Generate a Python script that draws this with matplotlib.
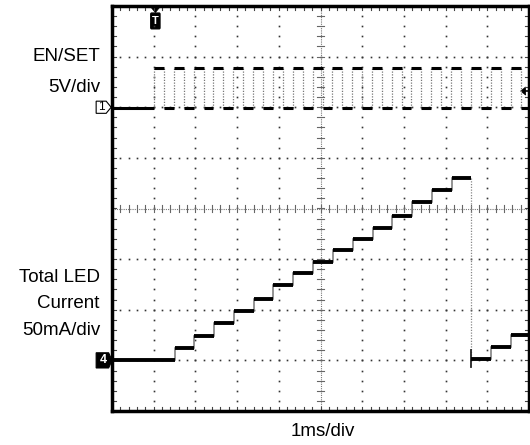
import numpy as np
import matplotlib.pyplot as plt
from matplotlib.patches import Polygon, FancyBboxPatch

plt.rcParams['font.family'] = ['Liberation Sans', 'DejaVu Sans']

# EN/SET (ch1) pulse edges in ms (1ms/div)
en_rise = [1.01, 1.48, 1.96, 2.43, 2.91, 3.38, 3.86, 4.33, 4.81, 5.28,
           5.76, 6.23, 6.71, 7.18, 7.66, 8.13, 8.61, 9.08, 9.56]
en_fall = [1.25, 1.72, 2.20, 2.67, 3.15, 3.62, 4.10, 4.57, 5.05, 5.52,
           6.00, 6.47, 6.95, 7.42, 7.90, 8.37, 8.85, 9.32, 9.80]
en_low_v = -0.1
en_high_v = 3.9

# Total LED current (ch4): step times in ms and levels in mA
led_step_t = [1.50, 1.97, 2.45, 2.92, 3.40, 3.87, 4.35, 4.82, 5.30,
              5.77, 6.25, 6.72, 7.20, 7.67, 8.15, 8.62, 9.10, 9.58]
led_ma = [0, 12, 24, 37, 49, 61, 74, 86, 97, 109, 120, 131, 143, 156,
          168, 180, 1, 13, 25]
glitch_ma = [-7, 10]   # spike when the count wraps around

trig_level_div = 2.32

# screen scaling
ch1_zero, v_per_div = 2.0, 5.0
ch4_zero, ma_per_div = -3.0, 50.0

fig = plt.figure(figsize=(5.30, 4.45), dpi=100)
ax = fig.add_axes([112/530, 34/445, 417/530, 405/445])
ax.set_xlim(0, 10)
ax.set_ylim(-4, 4)
ax.set_xticks([])
ax.set_yticks([])
for s in ax.spines.values():
    s.set_linewidth(2.5)

# graticule: dotted grid lines
dots = np.arange(0, 10.01, 0.2)
vdots = np.arange(-4, 4.01, 0.2)
for gx in range(1, 10):
    if gx == 5:
        continue
    ax.plot([gx]*len(vdots), vdots, ls='none', marker='s', ms=1.2, mew=0, color='#333')
for gy in range(-3, 4):
    if gy == 0:
        continue
    ax.plot(dots, [gy]*len(dots), ls='none', marker='s', ms=1.2, mew=0, color='#333')

# center cross with minor ticks
ax.plot([0, 10], [0, 0], color='#777', lw=0.8, ls=(0, (1, 1)))
ax.plot([5, 5], [-4, 4], color='#777', lw=0.8, ls=(0, (1, 1)))
for t in dots:
    ax.plot([t, t], [-0.07, 0.07], color='#666', lw=0.8)
    ax.plot([t, t], [-4, -3.92], color='#444', lw=0.8)
    ax.plot([t, t], [4, 3.92], color='#444', lw=0.8)
for t in vdots:
    ax.plot([4.91, 5.09], [t, t], color='#666', lw=0.8)
    ax.plot([0, 0.1], [t, t], color='#444', lw=0.8)
    ax.plot([9.9, 10], [t, t], color='#444', lw=0.8)

# ch1 trace
lo = ch1_zero + en_low_v / v_per_div
hi = ch1_zero + en_high_v / v_per_div
edges = [0.0]
for r, f in zip(en_rise, en_fall):
    edges += [r, f]
edges.append(10.0)
for e in edges[1:-1]:
    ax.plot([e, e], [lo, hi], color='#777', lw=0.9, ls=(0, (1, 1.2)))
for i in range(len(edges) - 1):
    lvl = hi if i % 2 == 1 else lo
    ax.plot([edges[i], edges[i+1]], [lvl, lvl], color='black', lw=2.2, solid_capstyle='butt')

# ch4 trace
bounds = [0.0] + led_step_t + [10.0]
lv = [ch4_zero + m / ma_per_div for m in led_ma]
for i, t in enumerate(led_step_t):
    if led_ma[i+1] < led_ma[i]:
        ax.plot([t, t], [lv[i], lv[i+1]], color='#888', lw=0.9, ls=(0, (1, 1.2)))
        ax.plot([t, t], [ch4_zero + glitch_ma[0] / ma_per_div, ch4_zero + glitch_ma[1] / ma_per_div],
                color='#222', lw=1.3)
    else:
        ax.plot([t, t], [lv[i], lv[i+1]], color='#777', lw=1.1)
for i in range(len(lv)):
    ax.plot([bounds[i], bounds[i+1]], [lv[i], lv[i]], color='black', lw=2.8, solid_capstyle='butt')

# channel markers
p1 = Polygon([(-0.38, ch1_zero - 0.12), (-0.14, ch1_zero - 0.12), (-0.02, ch1_zero),
              (-0.14, ch1_zero + 0.12), (-0.38, ch1_zero + 0.12)],
             closed=True, fc='white', ec='black', lw=0.8, clip_on=False)
ax.add_patch(p1)
ax.text(-0.26, ch1_zero, '1', ha='center', va='center', fontsize=8.5, clip_on=False)

p4 = Polygon([(-0.38, ch4_zero - 0.15), (-0.08, ch4_zero - 0.15), (0.0, ch4_zero),
              (-0.08, ch4_zero + 0.15), (-0.38, ch4_zero + 0.15)],
             closed=True, fc='black', ec='black', lw=0.8, clip_on=False)
ax.add_patch(p4)
ax.text(-0.22, ch4_zero, '4', ha='center', va='center', fontsize=9, color='white',
        fontweight='bold', clip_on=False)

# trigger position marker
tt = en_rise[0] + 0.03
ax.add_patch(Polygon([(tt - 0.1, 3.97), (tt + 0.1, 3.97), (tt, 3.87)], closed=True,
                     fc='black', ec='black', lw=0.5))
ax.add_patch(FancyBboxPatch((tt - 0.09, 3.57), 0.18, 0.27, boxstyle='round,pad=0.02',
                            fc='black', ec='black'))
ax.text(tt, 3.705, 'T', ha='center', va='center', fontsize=8, color='white', fontweight='bold')

# trigger level marker
ax.add_patch(Polygon([(9.8, trig_level_div), (9.92, trig_level_div + 0.08),
                      (9.92, trig_level_div - 0.08)], closed=True, fc='black', ec='black', lw=0.5))
ax.plot([9.9, 10], [trig_level_div, trig_level_div], color='black', lw=1.2)

# labels
fs = 13.5
fig.text(100/530, 1 - 61/445, 'EN/SET', ha='right', va='baseline', fontsize=fs)
fig.text(100/530, 1 - 92/445, '5V/div', ha='right', va='baseline', fontsize=fs)
fig.text(100/530, 1 - 282/445, 'Total LED', ha='right', va='baseline', fontsize=fs)
fig.text(99/530, 1 - 308/445, 'Current', ha='right', va='baseline', fontsize=fs)
fig.text(100/530, 1 - 335/445, '50mA/div', ha='right', va='baseline', fontsize=fs)
fig.text(323/530, 1 - 436/445, '1ms/div', ha='center', va='baseline', fontsize=fs)

fig.savefig('out.png', dpi=100)
